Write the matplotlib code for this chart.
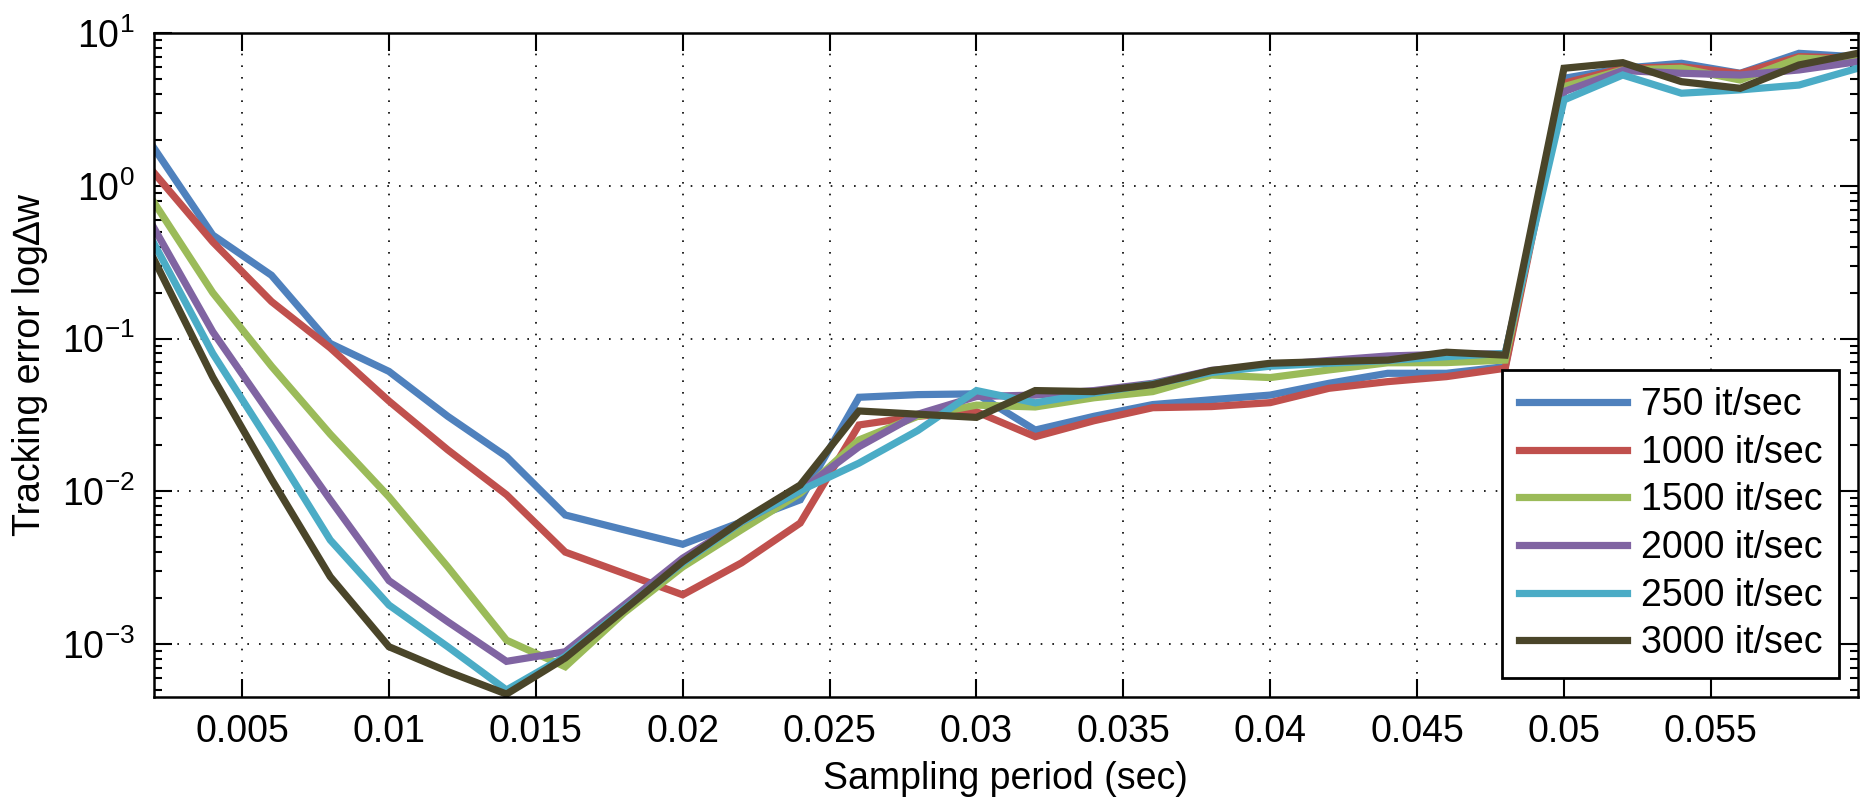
import matplotlib
matplotlib.use("Agg")
import matplotlib.pyplot as plt
from matplotlib.ticker import FixedLocator, FormatStrFormatter, LogLocator, NullFormatter

plt.rcParams['font.family'] = ['Liberation Sans', 'DejaVu Sans']
plt.rcParams['mathtext.fontset'] = 'custom'
plt.rcParams['mathtext.rm'] = 'Liberation Sans'
plt.rcParams['mathtext.it'] = 'Liberation Sans'

# sampling period (sec)
periods = [0.002, 0.004, 0.006, 0.008, 0.010, 0.012, 0.014, 0.016, 0.018, 0.020,
           0.022, 0.024, 0.026, 0.028, 0.030, 0.032, 0.034, 0.036, 0.038, 0.040,
           0.042, 0.044, 0.046, 0.048, 0.050, 0.052, 0.054, 0.056, 0.058, 0.060]

err_750 = [1.77, 0.477, 0.26, 0.093, 0.061, 0.031, 0.0169, 0.0070, 0.0056, 0.0045,
           0.0063, 0.0088, 0.0413, 0.043, 0.0435, 0.0252, 0.031, 0.037, 0.0398, 0.0427,
           0.051, 0.0593, 0.0593, 0.0656, 5.07, 5.9, 6.36, 5.47, 7.39, 7.0]
err_1000 = [1.22, 0.43, 0.175, 0.087, 0.039, 0.0187, 0.0095, 0.0040, 0.0029, 0.0021,
            0.0034, 0.0062, 0.0272, 0.031, 0.0332, 0.0228, 0.029, 0.0353, 0.0359, 0.0381,
            0.0473, 0.0523, 0.0564, 0.064, 4.71, 5.9, 6.04, 5.45, 7.03, 6.86]
err_1500 = [0.78, 0.2, 0.066, 0.0237, 0.0092, 0.0032, 0.00106, 0.00071, 0.0016, 0.0032,
            0.0056, 0.0097, 0.0217, 0.031, 0.0367, 0.0357, 0.041, 0.045, 0.0578, 0.0556,
            0.0624, 0.0695, 0.0697, 0.0724, 4.47, 5.75, 5.9, 4.94, 6.86, 6.7]
err_2000 = [0.53, 0.111, 0.031, 0.0088, 0.0026, 0.0014, 0.00077, 0.00089, 0.0018, 0.00365,
            0.0063, 0.0101, 0.0196, 0.032, 0.0418, 0.0427, 0.0457, 0.051, 0.062, 0.067,
            0.072, 0.077, 0.079, 0.0795, 4.15, 5.7, 5.47, 5.33, 5.75, 6.52]
err_2500 = [0.42, 0.08, 0.02, 0.0048, 0.0018, 0.00096, 0.0005, 0.00083, 0.0017, 0.0034,
            0.0063, 0.0101, 0.0153, 0.025, 0.0457, 0.038, 0.044, 0.0505, 0.060, 0.066,
            0.069, 0.072, 0.0762, 0.080, 3.66, 5.33, 4.05, 4.26, 4.58, 5.9]
err_3000 = [0.33, 0.056, 0.012, 0.00276, 0.00096, 0.00066, 0.00047, 0.00081, 0.00167, 0.00347,
            0.0064, 0.011, 0.0336, 0.032, 0.0305, 0.0457, 0.045, 0.050, 0.0618, 0.069,
            0.0708, 0.0724, 0.0815, 0.078, 5.9, 6.42, 4.82, 4.36, 6.2, 7.39]

series = [err_750, err_1000, err_1500, err_2000, err_2500, err_3000]
labels = ['750 it/sec', '1000 it/sec', '1500 it/sec', '2000 it/sec', '2500 it/sec', '3000 it/sec']
colors = ['#4F81BD', '#C0504D', '#9BBB59', '#8064A2', '#4BACC6', '#4A4529']

xticks = [0.005, 0.01, 0.015, 0.02, 0.025, 0.03, 0.035, 0.04, 0.045, 0.05, 0.055]

fig = plt.figure(figsize=(18.62, 7.98), dpi=100)
ax = fig.add_axes([0.0827, 0.1266, 0.915, 0.8317])

for vals, lab, col in zip(series, labels, colors):
    ax.plot(periods, vals, color=col, linewidth=5.2, label=lab, solid_joinstyle='miter')

ax.set_yscale('log')
ax.set_xlim(0.002, 0.06)
ax.set_ylim(4.5e-4, 10)

ax.xaxis.set_major_locator(FixedLocator(xticks))
ax.xaxis.set_major_formatter(FormatStrFormatter('%g'))
ax.yaxis.set_major_locator(LogLocator(base=10, numticks=10))
ax.yaxis.set_minor_locator(LogLocator(base=10, subs=range(2, 10), numticks=10))
ax.yaxis.set_minor_formatter(NullFormatter())

ax.grid(True, which='major', color='black', linestyle=(0, (1, 6)), linewidth=1.2)
ax.tick_params(which='both', direction='in', top=True, right=True, labelsize=27, width=1.5)
ax.tick_params(which='major', length=13)
ax.tick_params(which='minor', length=6)
ax.tick_params(axis='x', pad=12)
ax.tick_params(axis='y', pad=14)
for sp in ax.spines.values():
    sp.set_linewidth(1.8)

ax.set_xlabel('Sampling period (sec)', fontsize=27, labelpad=8)
ax.set_ylabel('Tracking error log\u2206w', fontsize=27, labelpad=10)

leg = ax.legend(loc='lower right', fontsize=27, frameon=True, fancybox=False, framealpha=1,
                borderaxespad=0.5, handlelength=2.9, handletextpad=0.35,
                labelspacing=0.31, borderpad=0.45)
leg.get_frame().set_edgecolor('black')
leg.get_frame().set_linewidth(2)

fig.savefig('out.png', dpi=100)
